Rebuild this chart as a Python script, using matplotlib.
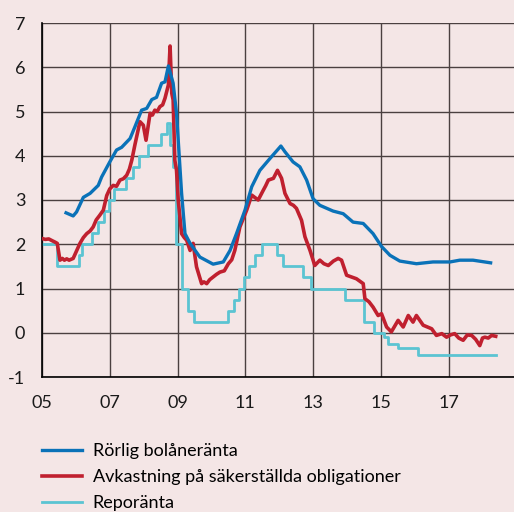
import matplotlib.pyplot as plt
import numpy as np

plt.rcParams['font.family'] = ['Lato', 'DejaVu Sans']
plt.rcParams['axes.unicode_minus'] = False

# Rörlig bolåneränta (decimal years, percent)
bolan_x = [2005.71, 2005.92, 2006.02, 2006.22, 2006.42, 2006.66, 2006.76, 2007.0, 2007.2,
           2007.35, 2007.6, 2007.74, 2007.94, 2008.09, 2008.24, 2008.38, 2008.53, 2008.63,
           2008.73, 2008.87, 2008.97, 2009.12, 2009.22, 2009.37, 2009.66, 2010.05, 2010.35,
           2010.55, 2010.74, 2010.99, 2011.19, 2011.43, 2011.73, 2012.05, 2012.17, 2012.41,
           2012.61, 2012.81, 2013.0, 2013.2, 2013.59, 2013.89, 2014.18, 2014.48, 2014.77,
           2015.02, 2015.27, 2015.56, 2016.05, 2016.54, 2017.04, 2017.33, 2017.72, 2018.24]
bolan_y = [2.71, 2.64, 2.73, 3.06, 3.15, 3.33, 3.52, 3.86, 4.13,
           4.19, 4.39, 4.65, 5.03, 5.07, 5.27, 5.32, 5.64, 5.67,
           6.03, 5.64, 4.96, 3.15, 2.24, 2.02, 1.71, 1.55, 1.60,
           1.86, 2.24, 2.77, 3.30, 3.67, 3.94, 4.22, 4.09, 3.86,
           3.75, 3.45, 3.03, 2.88, 2.75, 2.69, 2.50, 2.47, 2.24,
           1.95, 1.75, 1.62, 1.56, 1.60, 1.60, 1.64, 1.64, 1.58]

# Avkastning på säkerställda obligationer
oblig_x = [2005.0, 2005.1, 2005.2, 2005.3, 2005.38, 2005.45, 2005.53, 2005.6, 2005.66, 2005.73,
           2005.8, 2005.92, 2006.02, 2006.12, 2006.22, 2006.32, 2006.42,
           2006.51, 2006.6, 2006.7, 2006.81, 2006.91, 2007.0, 2007.1, 2007.2, 2007.3, 2007.4,
           2007.5, 2007.58, 2007.65, 2007.74, 2007.89,
           2007.99, 2008.07, 2008.19, 2008.26, 2008.33, 2008.4, 2008.48, 2008.56, 2008.63,
           2008.73, 2008.76, 2008.78,
           2008.83, 2008.87, 2008.92, 2008.97, 2009.02, 2009.12, 2009.2, 2009.27, 2009.37, 2009.46,
           2009.56, 2009.71, 2009.78, 2009.86, 2009.95, 2010.05, 2010.15, 2010.25, 2010.38,
           2010.5, 2010.6, 2010.69, 2010.84, 2011.04,
           2011.19, 2011.38, 2011.53, 2011.6, 2011.68, 2011.83, 2011.95, 2012.07, 2012.17, 2012.32,
           2012.42, 2012.51, 2012.66, 2012.76, 2012.91, 2013.05, 2013.2, 2013.32, 2013.45, 2013.6,
           2013.74, 2013.84,
           2013.99, 2014.28, 2014.48, 2014.53, 2014.65, 2014.77, 2014.92, 2015.02, 2015.17, 2015.31,
           2015.51, 2015.66, 2015.81, 2015.95, 2016.05, 2016.25, 2016.5, 2016.64, 2016.8, 2016.94,
           2017.05, 2017.18, 2017.3, 2017.43, 2017.55, 2017.68, 2017.8, 2017.92, 2018.0, 2018.07,
           2018.17, 2018.27, 2018.39]
oblig_y = [2.13, 2.11, 2.12, 2.08, 2.05, 2.02, 1.64, 1.68, 1.64, 1.67,
           1.64, 1.68, 1.85, 2.02, 2.15, 2.24, 2.30,
           2.39, 2.55, 2.65, 2.77, 3.10, 3.25, 3.33, 3.31, 3.45, 3.48,
           3.56, 3.70, 3.90, 4.24, 4.77,
           4.69, 4.35, 4.96, 4.92, 5.03, 5.00, 5.11, 5.15, 5.30,
           5.60, 6.16, 6.48,
           5.41, 5.26, 3.90, 3.67, 3.00, 2.24, 2.15, 2.09, 1.86, 2.02,
           1.49, 1.11, 1.15, 1.11, 1.20, 1.26, 1.32, 1.37, 1.40,
           1.56, 1.65, 1.86, 2.39, 2.77,
           3.11, 3.00, 3.22, 3.32, 3.45, 3.49, 3.67, 3.49, 3.15, 2.92,
           2.88, 2.81, 2.54, 2.17, 1.86, 1.52, 1.64, 1.56, 1.52, 1.62,
           1.68, 1.64,
           1.30, 1.22, 1.11, 0.77, 0.70, 0.58, 0.39, 0.43, 0.13, 0.02,
           0.28, 0.13, 0.39, 0.24, 0.39, 0.17, 0.09, -0.06, -0.02, -0.10,
           -0.05, -0.02, -0.12, -0.17, -0.05, -0.06, -0.15, -0.29, -0.12, -0.10,
           -0.12, -0.06, -0.08]

# Reporänta: change dates and new levels (step function)
repo_x = [2005.0, 2005.44, 2006.09, 2006.17, 2006.47, 2006.66, 2006.83, 2006.97, 2007.12,
          2007.47, 2007.7, 2007.85, 2008.12, 2008.5, 2008.7, 2008.77, 2008.86, 2008.95,
          2009.12, 2009.3, 2009.5, 2010.5, 2010.68, 2010.82, 2010.95, 2011.12, 2011.3,
          2011.5, 2011.95, 2012.12, 2012.7, 2012.95, 2013.95, 2014.5, 2014.8, 2015.1,
          2015.2, 2015.5, 2016.1, 2018.39]
repo_y = [2.0, 1.5, 1.75, 2.0, 2.25, 2.5, 2.75, 3.0, 3.25,
          3.5, 3.75, 4.0, 4.25, 4.5, 4.75, 4.25, 3.75, 2.0,
          1.0, 0.5, 0.25, 0.5, 0.75, 1.0, 1.25, 1.5, 1.75,
          2.0, 1.75, 1.5, 1.25, 1.0, 0.75, 0.25, 0.0, -0.1,
          -0.25, -0.35, -0.5, -0.5]

year_ticks = [2005, 2007, 2009, 2011, 2013, 2015, 2017]
year_labels = ['05', '07', '09', '11', '13', '15', '17']

bg = '#f4e6e6'
fig = plt.figure(figsize=(5.14, 5.12), dpi=100, facecolor=bg)
ax = fig.add_axes([42/514, 1 - 377/512, 1 - 42/514, (377 - 23)/512], facecolor=bg)

ax.plot(bolan_x, bolan_y, color='#0a72b8', lw=2.4, label='Rörlig bolåneränta', zorder=4)
ax.plot(oblig_x, oblig_y, color='#c0202f', lw=2.6, label='Avkastning på säkerställda obligationer', zorder=3)
ax.step(repo_x, repo_y, where='post', color='#5bc4d2', lw=2.0, label='Reporänta', zorder=2)

ax.set_xlim(2005, 2018.93)
ax.set_ylim(-1, 7)
ax.set_xticks(year_ticks)
ax.set_xticklabels(year_labels)
ax.set_yticks(range(-1, 8))
ax.grid(True, color='#4a4040', lw=1.0, zorder=0)
ax.set_axisbelow(True)
ax.tick_params(length=0, labelsize=13, colors='#1a1a1a')
ax.tick_params(axis='x', pad=13)
ax.tick_params(axis='y', pad=12)
for s in ['top', 'right']:
    ax.spines[s].set_visible(False)
for s in ['left', 'bottom']:
    ax.spines[s].set_color('black')
    ax.spines[s].set_linewidth(1.2)

handles, labels = ax.get_legend_handles_labels()
fig.legend(handles, labels, loc='upper left', bbox_to_anchor=(26/514, 1 - 427/512),
           frameon=False, fontsize=13, handlelength=2.2, handletextpad=0.6,
           labelspacing=0.55)

fig.savefig('out.png', dpi=100, facecolor=bg)
